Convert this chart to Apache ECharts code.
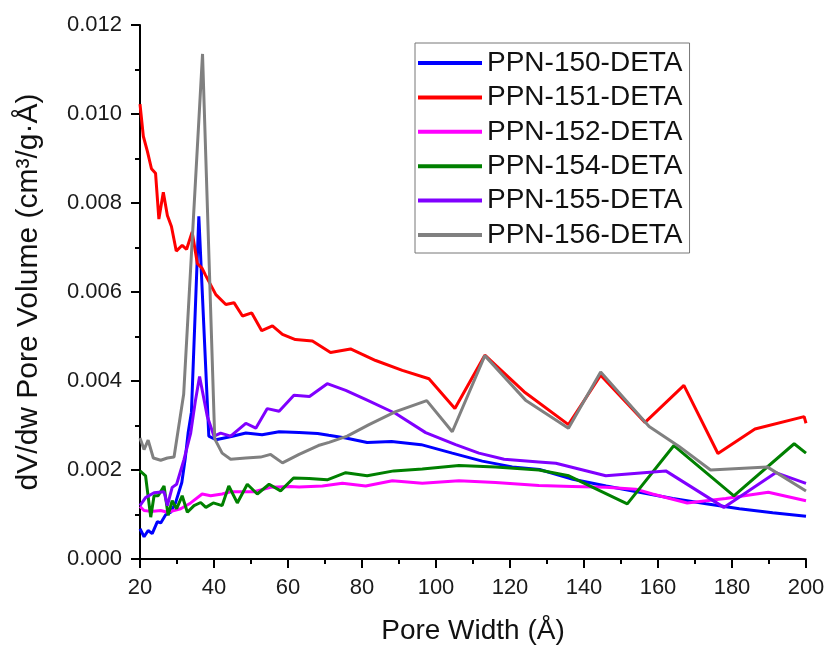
<!DOCTYPE html>
<html>
<head>
<meta charset="utf-8">
<script src="https://cdn.jsdelivr.net/npm/echarts@6/dist/echarts.min.js"></script>
<style>html,body{margin:0;padding:0;background:#fff;}#c{width:832px;height:650px;}</style>
</head>
<body>
<div id="c"></div>
<script>
const seriesNames = ['PPN-150-DETA','PPN-151-DETA','PPN-152-DETA','PPN-154-DETA','PPN-155-DETA','PPN-156-DETA'];
const seriesColors = ['#0000FF','#FF0000','#FF00FF','#008000','#8000FF','#808080'];

const ppn150X = [20,21.1,22.2,23.3,24.7,25.6,26.9,28.3,29.6,31.3,32.2,33,33.9,35.9,38.6,40.5,45,48.6,53,57.6,63,68,71,75.6,81.4,88,96,104.4,112.5,120.6,128,137,146,155,164,173,182,191,200];
const ppn150Y = [0.00068,0.0005,0.00064,0.00057,0.00084,0.00081,0.00099,0.00105,0.00126,0.00172,0.00224,0.00283,0.0033,0.0077,0.00276,0.00268,0.00276,0.00283,0.00279,0.00286,0.00284,0.00282,0.00278,0.00272,0.00262,0.00264,0.00257,0.00238,0.0022,0.00207,0.00201,0.00179,0.00164,0.0015,0.00136,0.00124,0.00113,0.00104,0.00096];

const ppn151X = [20,20.9,22,23.1,24.2,25.1,26.3,27.4,28.5,29.8,31.4,32.6,34.1,35.5,36.8,37.7,40.5,43.2,45.4,47.7,50.2,52.9,55.8,58.5,62,66.6,71.5,76.9,83.7,90.9,98.1,105.1,113.2,123.8,135.8,144.5,156.5,167,176.2,186.2,199.5,200];
const ppn151Y = [0.01022,0.0095,0.00916,0.00877,0.00867,0.00764,0.00824,0.00772,0.00747,0.00692,0.00705,0.00696,0.00735,0.00664,0.00653,0.00638,0.00594,0.00572,0.00576,0.00546,0.00553,0.00513,0.00524,0.00505,0.00493,0.0049,0.00464,0.00472,0.00446,0.00424,0.00405,0.00338,0.00458,0.00376,0.00302,0.00413,0.00307,0.0039,0.00237,0.00292,0.0032,0.00305];

const ppn152X = [20,21.1,22.9,25.6,27.4,31,33.7,36.8,39.1,42.2,44.5,47.2,50.8,55.3,60.7,63,69.3,74.7,81,88.2,96.3,106.2,116.1,127.8,136.8,145.9,154,158.5,167.9,178.3,189.8,200];
const ppn152Y = [0.00118,0.00109,0.00107,0.00109,0.00105,0.00113,0.00126,0.00146,0.00142,0.00146,0.00151,0.00151,0.00151,0.00161,0.00163,0.00162,0.00164,0.0017,0.00164,0.00176,0.0017,0.00176,0.00172,0.00165,0.00163,0.00161,0.00157,0.00146,0.00126,0.00136,0.0015,0.00131];

const ppn154X = [20,21.5,22.9,23.8,24.9,26.5,27.6,28.7,29.9,31.4,32.8,34.6,36.4,37.8,39.8,42.2,44,46.3,49,51.7,54.9,58,61.5,65.7,70.6,75.6,81.4,88.6,96.3,106.2,116.1,127.8,135.9,151.7,164.3,180.5,196.8,200];
const ppn154Y = [0.00198,0.00187,0.00094,0.00142,0.00142,0.00164,0.00098,0.00131,0.00113,0.00142,0.00105,0.0012,0.00127,0.00116,0.00126,0.0012,0.00164,0.00126,0.00168,0.00146,0.00168,0.00153,0.00182,0.00181,0.00178,0.00194,0.00187,0.00198,0.00202,0.0021,0.00207,0.002,0.00187,0.00124,0.00255,0.00142,0.00259,0.00238];

const ppn155X = [20,21.5,23.8,26.5,27.4,28.7,29.9,31.9,33.7,35,36.1,38.2,40,41.8,44.5,48.6,51.3,54.4,57.6,61.6,65.8,70.6,75.6,81.4,89.1,97.2,105.3,111.6,118.4,127.8,132.4,145.9,162.1,177.8,191.8,200];
const ppn155Y = [0.0012,0.00138,0.00149,0.00151,0.0012,0.00161,0.00168,0.00224,0.00283,0.00357,0.0041,0.0032,0.00276,0.00283,0.00276,0.00305,0.00294,0.00338,0.00332,0.00368,0.00365,0.00394,0.00379,0.00357,0.00327,0.00284,0.00257,0.00238,0.00224,0.00218,0.00215,0.00187,0.00198,0.00116,0.00194,0.0017];

const ppn156X = [20,21.1,22.2,23.6,25.6,27.4,29.2,31.8,36.9,40.2,42.2,44.5,48.6,52.6,55.3,58.5,63,68.2,71.1,76,81.9,89.1,97.5,104.4,113.2,124.2,135.8,144.5,157.6,165.7,174.2,189.5,200];
const ppn156Y = [0.00272,0.00246,0.00267,0.00227,0.00222,0.00227,0.00229,0.0037,0.01135,0.0027,0.00238,0.00224,0.00227,0.00229,0.00235,0.00216,0.00235,0.00255,0.00262,0.00276,0.00302,0.00331,0.00356,0.00286,0.00457,0.00357,0.00294,0.0042,0.00298,0.00253,0.002,0.00207,0.00153];

const xTicks = {min: 20, max: 200, interval: 20};
const yTicks = {min: 0, max: 0.012, interval: 0.002};

const allX = [ppn150X, ppn151X, ppn152X, ppn154X, ppn155X, ppn156X];
const allY = [ppn150Y, ppn151Y, ppn152Y, ppn154Y, ppn155Y, ppn156Y];

const FONT = 'Liberation Sans, Arial, sans-serif';
const chart = echarts.init(document.getElementById('c'), null, {renderer: 'canvas'});

const axisCommon = {
  axisLine: {show: true, lineStyle: {color: '#000', width: 2}},
  axisTick: {show: true, inside: false, length: 9, lineStyle: {color: '#000', width: 2}},
  minorTick: {show: true, splitNumber: 2, length: 5, lineStyle: {color: '#000', width: 2}},
  splitLine: {show: false},
  minorSplitLine: {show: false}
};

const option = {
  animation: false,
  backgroundColor: '#fff',
  grid: {left: 140, right: 26, top: 25, bottom: 86, containLabel: false},
  legend: {
    orient: 'vertical',
    left: 415, top: 43,
    padding: [5, 7, 3, 3],
    borderColor: '#777', borderWidth: 1,
    itemWidth: 64, itemHeight: 4, itemGap: 4.4,
    icon: 'rect',
    textStyle: {fontFamily: FONT, fontSize: 28, color: '#111', lineHeight: 30},
    data: seriesNames
  },
  xAxis: Object.assign({
    type: 'value', min: xTicks.min, max: xTicks.max, interval: xTicks.interval,
    name: 'Pore Width (Å)', nameLocation: 'middle', nameGap: 58,
    nameTextStyle: {fontFamily: FONT, fontSize: 28, color: '#111'},
    axisLabel: {fontFamily: FONT, fontSize: 22, color: '#1a1a1a', margin: 18}
  }, axisCommon),
  yAxis: Object.assign({
    type: 'value', min: yTicks.min, max: yTicks.max, interval: yTicks.interval,
    name: 'dV/dw Pore Volume (cm³/g·Å)', nameLocation: 'middle', nameGap: 96,
    nameTextStyle: {fontFamily: FONT, fontSize: 30, color: '#111'},
    axisLabel: {fontFamily: FONT, fontSize: 22, color: '#1a1a1a', margin: 18,
      formatter: v => v.toFixed(3)}
  }, axisCommon),
  series: seriesNames.map((name, i) => ({
    name: name,
    type: 'line',
    showSymbol: false,
    symbol: 'none',
    data: allX[i].map((x, j) => [x, allY[i][j]]),
    itemStyle: {color: seriesColors[i]},
    lineStyle: {color: seriesColors[i], width: 3},
    z: 2 + i
  }))
};
chart.setOption(option);
</script>
</body>
</html>
